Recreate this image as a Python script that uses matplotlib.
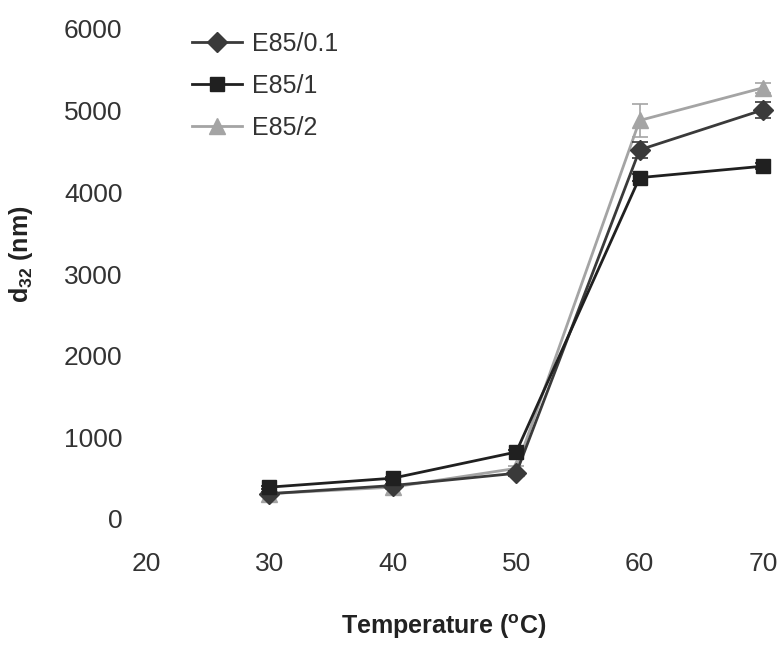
import matplotlib.pyplot as plt

plt.rcParams['font.family'] = ['Liberation Sans', 'DejaVu Sans']
plt.rcParams['mathtext.fontset'] = 'custom'
plt.rcParams['mathtext.rm'] = 'Liberation Sans'
plt.rcParams['mathtext.bf'] = 'Liberation Sans:bold'

# data
temperature = [30, 40, 50, 60, 70]
d32_e85_01 = [310, 410, 560, 4520, 5010]
d32_e85_1 = [390, 500, 820, 4180, 4320]
d32_e85_2 = [310, 390, 620, 4880, 5280]
err_e85_01 = [20, 20, 30, 100, 100]
err_e85_1 = [20, 20, 30, 40, 40]
err_e85_2 = [20, 20, 30, 200, 60]

x_ticks = [20, 30, 40, 50, 60, 70]
y_ticks = [0, 1000, 2000, 3000, 4000, 5000, 6000]

fig = plt.figure(figsize=(7.81, 6.45), dpi=100)
ax = fig.add_axes([146 / 781, 1 - 519 / 645, (763 - 146) / 781, (519 - 29) / 645])

series = [
    ('E85/0.1', d32_e85_01, err_e85_01, '#3a3a3a', 'D', 10),
    ('E85/1', d32_e85_1, err_e85_1, '#202020', 's', 10.5),
    ('E85/2', d32_e85_2, err_e85_2, '#a4a4a4', '^', 11),
]
order = [2, 0, 1]
handles = {}
for i in order:
    name, vals, err, col, mk, ms = series[i]
    ax.errorbar(temperature, vals, yerr=err, fmt='none', ecolor=col,
                elinewidth=1.2, capsize=6, capthick=1.2, clip_on=False)
    h, = ax.plot(temperature, vals, color=col, lw=2.0, marker=mk,
                 markersize=ms, clip_on=False, label=name)
    handles[i] = h

ax.set_xlim(20, 70)
ax.set_ylim(0, 6000)
ax.set_xticks(x_ticks)
ax.set_yticks(y_ticks)
ax.tick_params(length=0, labelsize=19, labelcolor='#333333')
ax.tick_params(axis='x', pad=24)
ax.tick_params(axis='y', pad=17)
for s in ax.spines.values():
    s.set_visible(False)

ax.set_xlabel(r'Temperature ($^{\mathbf{o}}$C)', fontsize=18, fontweight='bold',
              color='#222222')
ax.set_ylabel(r'd$_{\mathbf{32}}$ (nm)', fontsize=18, fontweight='bold',
              color='#222222')
ax.xaxis.set_label_coords(0.483, -0.19)
ax.yaxis.set_label_coords(-0.18, 0.54)

ax.legend([handles[0], handles[1], handles[2]], ['E85/0.1', 'E85/1', 'E85/2'],
          loc='upper left', bbox_to_anchor=(0.038, 1.04), frameon=False,
          fontsize=18, handlelength=2.0, handletextpad=0.4, labelspacing=0.72,
          labelcolor='#333333')

fig.savefig('out.png', dpi=100)
